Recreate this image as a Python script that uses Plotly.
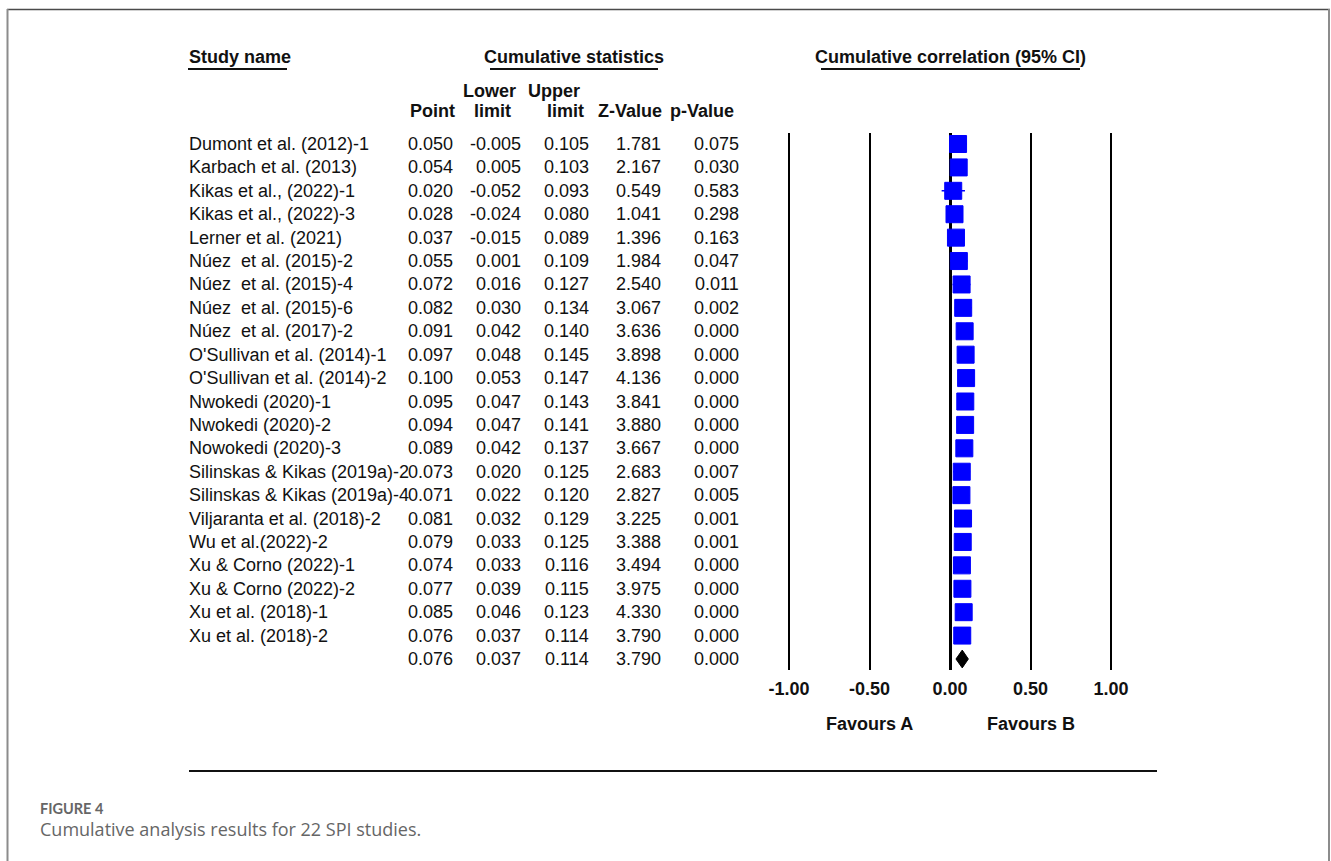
import plotly.graph_objects as go

# ---- data -----------------------------------------------------------------
studies = [
    "Dumont et al. (2012)-1",
    "Karbach et al. (2013)",
    "Kikas et al., (2022)-1",
    "Kikas et al., (2022)-3",
    "Lerner et al. (2021)",
    "Núez\u00a0 et al. (2015)-2",
    "Núez\u00a0 et al. (2015)-4",
    "Núez\u00a0 et al. (2015)-6",
    "Núez\u00a0 et al. (2017)-2",
    "O'Sullivan et al. (2014)-1",
    "O'Sullivan et al. (2014)-2",
    "Nwokedi (2020)-1",
    "Nwokedi (2020)-2",
    "Nowokedi (2020)-3",
    "Silinskas & Kikas (2019a)-2",
    "Silinskas & Kikas (2019a)-4",
    "Viljaranta et al. (2018)-2",
    "Wu et al.(2022)-2",
    "Xu & Corno (2022)-1",
    "Xu & Corno (2022)-2",
    "Xu et al. (2018)-1",
    "Xu et al. (2018)-2",
]
point = [0.050, 0.054, 0.020, 0.028, 0.037, 0.055, 0.072, 0.082, 0.091, 0.097, 0.100,
         0.095, 0.094, 0.089, 0.073, 0.071, 0.081, 0.079, 0.074, 0.077, 0.085, 0.076]
lower = [-0.005, 0.005, -0.052, -0.024, -0.015, 0.001, 0.016, 0.030, 0.042, 0.048, 0.053,
         0.047, 0.047, 0.042, 0.020, 0.022, 0.032, 0.033, 0.033, 0.039, 0.046, 0.037]
upper = [0.105, 0.103, 0.093, 0.080, 0.089, 0.109, 0.127, 0.134, 0.140, 0.145, 0.147,
         0.143, 0.141, 0.137, 0.125, 0.120, 0.129, 0.125, 0.116, 0.115, 0.123, 0.114]
z_value = [1.781, 2.167, 0.549, 1.041, 1.396, 1.984, 2.540, 3.067, 3.636, 3.898, 4.136,
           3.841, 3.880, 3.667, 2.683, 2.827, 3.225, 3.388, 3.494, 3.975, 4.330, 3.790]
p_value = [0.075, 0.030, 0.583, 0.298, 0.163, 0.047, 0.011, 0.002, 0.000, 0.000, 0.000,
           0.000, 0.000, 0.000, 0.007, 0.005, 0.001, 0.001, 0.000, 0.000, 0.000, 0.000]

# pooled (final cumulative) estimate
summary_point = 0.076
summary_lower = 0.037
summary_upper = 0.114
summary_z = 3.790
summary_p = 0.000

tick_vals = [-1.0, -0.5, 0.0, 0.5, 1.0]
tick_text = ["-1.00", "-0.50", "0.00", "0.50", "1.00"]

# ---- page geometry -----------------------------------------------------------
W, H = 1331, 861
FONT = "Liberation Sans, Arial, sans-serif"
BLUE = "#0000FF"
TXT = 18


def px(x):
    return x / W


def py(y):
    return 1 - y / H


rows = list(range(len(studies)))
summary_row = len(studies)

fig = go.Figure()

# cumulative estimates with their confidence intervals
fig.add_trace(go.Scatter(
    x=point, y=rows, mode="markers",
    marker=dict(symbol="square", size=17, color=BLUE, line=dict(color=BLUE, width=1)),
    error_x=dict(type="data", symmetric=False,
                 array=[u - p for u, p in zip(upper, point)],
                 arrayminus=[p - l for p, l in zip(point, lower)],
                 color=BLUE, thickness=1.5, width=0),
    hoverinfo="skip", showlegend=False,
))

# pooled estimate diamond
half_h = 0.38
fig.add_trace(go.Scatter(
    x=[summary_lower, summary_point, summary_upper, summary_point, summary_lower],
    y=[summary_row, summary_row - half_h, summary_row, summary_row + half_h, summary_row],
    mode="lines", fill="toself", fillcolor="black",
    line=dict(color="black", width=1),
    hoverinfo="skip", showlegend=False,
))

annotations = []


def add_text(text, x, y, xanchor="left", bold=False, size=TXT, xref="paper", yref="paper",
             color="#111111", family=FONT):
    annotations.append(dict(
        text=f"<b>{text}</b>" if bold else text,
        x=x, y=y, xref=xref, yref=yref, xanchor=xanchor, yanchor="middle",
        showarrow=False, font=dict(family=family, size=size, color=color),
        borderpad=0, borderwidth=0,
    ))


# column headers
add_text("Study name", px(189), py(57), bold=True)
add_text("Cumulative statistics", px(573.5), py(57), xanchor="center", bold=True)
add_text("Cumulative correlation (95% CI)", 0.0, py(57), xanchor="center", bold=True, xref="x")
add_text("Lower", px(489.5), py(91), xanchor="center", bold=True)
add_text("Upper", px(553.5), py(91), xanchor="center", bold=True)
add_text("Point", px(432.5), py(111), xanchor="center", bold=True)
add_text("limit", px(492.5), py(111), xanchor="center", bold=True)
add_text("limit", px(565.3), py(111), xanchor="center", bold=True)
add_text("Z-Value", px(630.3), py(111), xanchor="center", bold=True)
add_text("p-Value", px(701.7), py(111), xanchor="center", bold=True)

# table body
col_right = [453, 521, 588.5, 661, 739]
for i, name in enumerate(studies):
    add_text(name, px(189), i, yref="y")
    for xr, v in zip(col_right, (point[i], lower[i], upper[i], z_value[i], p_value[i])):
        add_text(f"{v:.3f}", px(xr), i, xanchor="right", yref="y")
for xr, v in zip(col_right, (summary_point, summary_lower, summary_upper, summary_z, summary_p)):
    add_text(f"{v:.3f}", px(xr), summary_row, xanchor="right", yref="y")

# direction labels under the axis
add_text("Favours A", -0.5, py(724), xanchor="center", bold=True, xref="x")
add_text("Favours B", 0.5, py(724), xanchor="center", bold=True, xref="x")

# caption
add_text("FIGURE 4", px(40), py(808), bold=True, size=14.5, color="#666666", family="Lato, sans-serif")
add_text("Cumulative analysis results for 22 SPI studies.", px(40), py(829), size=18,
         color="#666666", family="Open Sans, sans-serif")

shapes = []


def hline(x0, x1, y, color="#111111", width=2):
    shapes.append(dict(type="line", xref="paper", yref="paper",
                       x0=px(x0), x1=px(x1), y0=py(y), y1=py(y),
                       line=dict(color=color, width=width)))


def vline(x, y0, y1, color, width):
    shapes.append(dict(type="line", xref="paper", yref="paper",
                       x0=px(x), x1=px(x), y0=py(y0), y1=py(y1),
                       line=dict(color=color, width=width)))


# header underlines
hline(188, 287, 69)
hline(490, 658, 69)
hline(821, 1080, 69)
# rule below the figure
hline(189, 1157, 771)
# frame around the figure panel
hline(7, 1330, 9.5, color="#4a4a4a", width=1.5)
vline(7.5, 9, 861, color="#8c8c8c", width=2)
vline(1329, 9, 861, color="#8c8c8c", width=2)

# x scale: -1 at 789 px and +1 at 1111 px, padded slightly so the
# gridlines at the range ends are still drawn
pad = 0.01
unit_px = (1111 - 789) / 2

fig.update_layout(
    width=W, height=H, autosize=False,
    margin=dict(l=0, r=0, t=0, b=0, pad=0, autoexpand=False),
    paper_bgcolor="white", plot_bgcolor="white",
    showlegend=False,
    annotations=annotations,
    shapes=shapes,
    xaxis=dict(
        domain=[px(789 - pad * unit_px), px(1111 + pad * unit_px)],
        range=[-1 - pad, 1 + pad],
        tickvals=tick_vals, ticktext=tick_text,
        tickfont=dict(family=FONT, size=TXT, color="#111111", weight="bold"),
        showgrid=True, gridcolor="black", gridwidth=2,
        zeroline=True, zerolinecolor="black", zerolinewidth=3,
        showline=False, ticks="", ticklabelstandoff=6,
        automargin=False, fixedrange=True,
    ),
    yaxis=dict(
        domain=[py(670), py(133)], range=[summary_row + 0.47, -0.47],
        visible=False, showgrid=False, zeroline=False, automargin=False, fixedrange=True,
    ),
)

fig.write_html("out.html")
